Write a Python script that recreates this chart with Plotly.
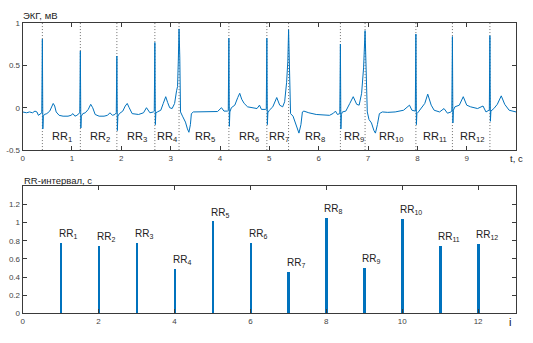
import plotly.graph_objects as go

W, H = 533, 343

# ECG trace samples (time in s, voltage in mV)
ecg_t = [
    0.00, 0.08, 0.14, 0.20, 0.25, 0.29, 0.32, 0.36, 0.388, 0.40, 0.41, 0.42, 0.44, 0.49, 0.55, 0.59, 0.62, 0.65, 0.68, 0.74, 0.82, 0.92, 0.98, 1.02, 1.06, 1.10, 1.14, 1.158,
    1.17, 1.18, 1.19, 1.22, 1.27, 1.33, 1.38, 1.42, 1.47, 1.55, 1.65, 1.72, 1.77, 1.82, 1.87, 1.898,
    1.91, 1.92, 1.93, 1.96, 2.03, 2.08, 2.12, 2.16, 2.22, 2.35, 2.45, 2.51, 2.58, 2.65, 2.668,
    2.68, 2.69, 2.70, 2.73, 2.80, 2.85, 2.90, 2.94, 2.98, 3.03, 3.08, 3.12, 3.14, 3.155, 3.17, 3.185, 3.20, 3.24, 3.30, 3.34, 3.37, 3.40, 3.42, 3.46, 3.60, 3.80, 3.95, 4.03, 4.08, 4.15, 4.168,
    4.18, 4.19, 4.20, 4.23, 4.30, 4.36, 4.40, 4.44, 4.49, 4.56, 4.65, 4.75, 4.80, 4.84, 4.92, 4.938,
    4.95, 4.96, 4.97, 5.00, 5.07, 5.15, 5.21, 5.27, 5.31, 5.35, 5.375, 5.39, 5.41, 5.43, 5.48, 5.53, 5.58, 5.60, 5.64, 5.67, 5.70, 5.80, 5.95, 6.10, 6.22, 6.30, 6.34, 6.38, 6.428,
    6.44, 6.45, 6.46, 6.48, 6.55, 6.63, 6.70, 6.77, 6.82, 6.87, 6.91, 6.94, 6.96, 6.985, 7.02, 7.07, 7.12, 7.15, 7.19, 7.23, 7.29, 7.40, 7.55, 7.72, 7.84, 7.89, 7.958,
    7.97, 7.98, 7.99, 8.02, 8.08, 8.15, 8.21, 8.28, 8.34, 8.45, 8.54, 8.61, 8.68, 8.698,
    8.71, 8.72, 8.73, 8.76, 8.85, 8.93, 9.00, 9.08, 9.22, 9.33, 9.39, 9.45, 9.458,
    9.47, 9.48, 9.49, 9.55, 9.62, 9.70, 9.77, 9.86, 9.95, 10.00,
]
ecg_v = [
    -0.05, -0.06, -0.05, -0.06, -0.04, -0.05, -0.09, -0.07, -0.06, 0.81, -0.25, -0.10, -0.08, -0.07, -0.04, 0.02, 0.05, 0.02, -0.05, -0.09, -0.10, -0.10, -0.09, -0.07, -0.10, -0.09, -0.07, -0.06,
    0.67, -0.24, -0.10, -0.07, -0.06, -0.02, 0.04, 0.00, -0.08, -0.10, -0.10, -0.09, -0.06, -0.09, -0.08, -0.06,
    0.61, -0.27, -0.10, -0.07, -0.04, 0.02, 0.05, 0.00, -0.07, -0.08, -0.06, 0.00, -0.06, -0.05, -0.04,
    0.77, -0.20, -0.06, -0.05, -0.03, 0.05, 0.13, 0.06, 0.00, -0.01, 0.05, 0.20, 0.25, 0.55, 0.93, 0.60, -0.05, -0.10, -0.17, -0.25, -0.29, -0.20, -0.07, -0.05, -0.05, -0.05, -0.045, 0.00, -0.04, -0.04, -0.03,
    0.82, -0.22, -0.05, 0.00, 0.03, 0.12, 0.17, 0.10, 0.05, 0.01, 0.00, -0.01, 0.03, -0.02, -0.02, -0.02,
    0.82, -0.20, -0.06, -0.03, 0.01, 0.12, 0.03, 0.01, 0.07, 0.30, 0.55, 0.92, 0.30, -0.07, -0.10, -0.18, -0.28, -0.30, -0.20, -0.05, -0.04, -0.06, -0.08, -0.09, -0.09, -0.065, -0.04, -0.08, -0.07,
    0.75, -0.25, -0.08, -0.05, -0.04, 0.05, 0.13, 0.04, 0.03, 0.17, 0.47, 0.91, 0.50, -0.05, -0.14, -0.18, -0.27, -0.30, -0.20, -0.07, -0.05, -0.055, -0.05, -0.03, 0.03, -0.03, -0.04,
    0.87, -0.20, -0.07, -0.05, -0.01, 0.05, 0.16, 0.03, -0.03, -0.05, -0.01, -0.065, -0.05, -0.04,
    0.84, -0.18, -0.03, 0.01, 0.03, 0.13, 0.03, 0.01, -0.01, 0.02, -0.05, -0.03, -0.03,
    0.85, -0.16, -0.04, -0.01, 0.04, 0.14, 0.04, -0.03, -0.04, -0.05,
]

# R-peak instants marked on the ECG (s)
r_peaks = [0.40, 1.17, 1.91, 2.68, 3.17, 4.18, 4.95, 5.39, 6.44, 6.94, 7.97, 8.71, 9.47]

# RR intervals (s) for interval index i
rr_index = [1, 2, 3, 4, 5, 6, 7, 8, 9, 10, 11, 12]
rr_values = [0.77, 0.74, 0.77, 0.49, 1.01, 0.77, 0.45, 1.05, 0.50, 1.04, 0.74, 0.76]

# tick labels
ecg_xticks = [0, 1, 2, 3, 4, 5, 6, 7, 8, 9]
ecg_yticks = [-0.5, 0, 0.5, 1]
ecg_yticklabels = ["-0.5", "0", "0.5", "1"]
rr_xticks = [0, 2, 4, 6, 8, 10, 12]
rr_yticks = [0, 0.2, 0.4, 0.6, 0.8, 1, 1.2]
rr_yticklabels = ["0", "0.2", "0.4", "0.6", "0.8", "1", "1.2"]

BLUE = "#0072BD"
AX = "#3a3a3a"
FONT = "Liberation Sans, Arial, sans-serif"

fig = go.Figure()

# fine dotted markers at R peaks
for tp in r_peaks:
    fig.add_trace(go.Scatter(
        x=[tp, tp], y=[-0.5, 1], mode="lines",
        line=dict(color="#707070", width=1, dash="1px,2px"),
        hoverinfo="skip", showlegend=False, xaxis="x", yaxis="y"))

fig.add_trace(go.Scatter(
    x=ecg_t, y=ecg_v, mode="lines",
    line=dict(color=BLUE, width=1),
    showlegend=False, xaxis="x", yaxis="y"))

# RR interval stems
fig.add_trace(go.Bar(
    x=rr_index, y=rr_values, width=0.065,
    marker=dict(color=BLUE, line=dict(width=0)),
    showlegend=False, xaxis="x2", yaxis="y2"))

def px_x(p):
    return p / W

def px_y(p):
    return 1 - p / H

top_dom = [px_y(150), px_y(19.5)]
bot_dom = [px_y(317.7), px_y(187.3)]
x_dom = [px_x(20.7), px_x(516)]

axis_common = dict(
    showline=True, linecolor=AX, linewidth=1, mirror="ticks",
    ticks="inside", ticklen=4, tickcolor=AX, tickwidth=1,
    showgrid=False, zeroline=False,
    tickfont=dict(family=FONT, size=8, color="#444444"),
)

fig.update_layout(
    width=W, height=H,
    margin=dict(l=0, r=0, t=0, b=0),
    paper_bgcolor="white", plot_bgcolor="white",
    bargap=0,
    xaxis=dict(domain=x_dom, range=[0, 10], tickvals=ecg_xticks, anchor="y", **axis_common),
    yaxis=dict(domain=top_dom, range=[-0.5, 1], tickvals=ecg_yticks,
               ticktext=ecg_yticklabels, anchor="x", **axis_common),
    xaxis2=dict(domain=x_dom, range=[0, 13], tickvals=rr_xticks, anchor="y2", **axis_common),
    yaxis2=dict(domain=bot_dom, range=[0, 1.4], tickvals=rr_yticks,
                ticktext=rr_yticklabels, anchor="x2", **axis_common),
)

ann = []
# RR labels between R peaks
for k in range(len(r_peaks) - 1):
    mid = 0.5 * (r_peaks[k] + r_peaks[k + 1])
    ann.append(dict(x=mid + 0.02, y=-0.35, xref="x", yref="y",
                    text=f"RR<sub>{k + 1}</sub>", showarrow=False,
                    xanchor="center", yanchor="middle",
                    font=dict(family=FONT, size=11, color="#222222")))
# RR labels above stems
for i, v in zip(rr_index, rr_values):
    ann.append(dict(x=i - 0.1, y=v + 0.1, xref="x2", yref="y2",
                    text=f"RR<sub>{i}</sub>", showarrow=False,
                    xanchor="left", yanchor="middle",
                    font=dict(family=FONT, size=10, color="#222222")))

# axis captions
caption = dict(family=FONT, size=9.5, color="#222222")
ann.append(dict(x=px_x(19), y=px_y(12), xref="paper", yref="paper", text="ЭКГ, мВ",
                showarrow=False, xanchor="left", yanchor="middle", font=caption))
ann.append(dict(x=px_x(516), y=px_y(158.5), xref="paper", yref="paper", text="t, c",
                showarrow=False, xanchor="center", yanchor="middle", font=caption))
ann.append(dict(x=px_x(20.5), y=px_y(181), xref="paper", yref="paper", text="RR-интервал, с",
                showarrow=False, xanchor="left", yanchor="middle", font=caption))
ann.append(dict(x=px_x(509.5), y=px_y(326.5), xref="paper", yref="paper", text="i",
                showarrow=False, xanchor="center", yanchor="middle",
                font=dict(family=FONT, size=11, color="#111111")))

fig.update_layout(annotations=ann)

fig.write_html("out.html")
